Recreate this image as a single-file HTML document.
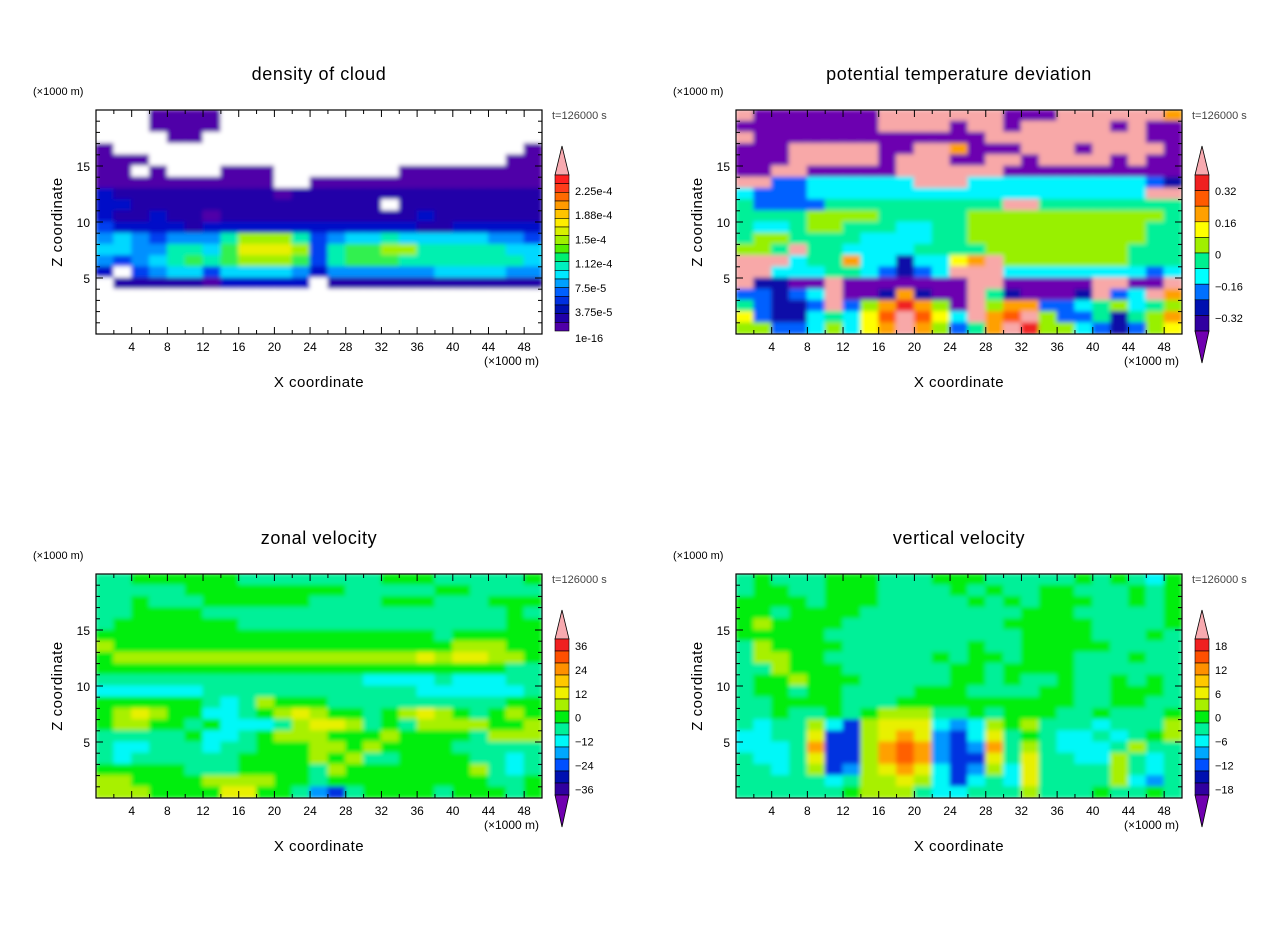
<!DOCTYPE html>
<html><head><meta charset="utf-8"><style>
body{margin:0;background:#fff;}
svg{display:block;font-family:"Liberation Sans",sans-serif;}
</style></head><body>
<svg id="root" width="1280" height="926" viewBox="0 0 1280 926"></svg>
<script>
const xTicks=[4,8,12,16,20,24,28,32,36,40,44,48];
const zTicks=[5,10,15];
const titles=["density of cloud","potential temperature deviation","zonal velocity","vertical velocity"];
const cb1Labels=["2.25e-4","1.88e-4","1.5e-4","1.12e-4","7.5e-5","3.75e-5","1e-16"];
const cb2Labels=["0.32","0.16","0","\u22120.16","\u22120.32"];
const cb3Labels=["36","24","12","0","\u221212","\u221224","\u221236"];
const cb4Labels=["18","12","6","0","\u22126","\u221212","\u221218"];
const field1=[
"...0000..................",
"...0000..................",
"....00...................",
"0.......................0",
"000....................00",
"00.0...000.......00000000",
"0000000000..0000000000000",
"2111111111011111111111111",
"2211111111111111.11111111",
"2112110111111111112111111",
"3222212222222222221122222",
"4543444688863455655555443",
"5544665799983677886666655",
"4345676788873677766666665",
"2.34553555542444444555544",
".11111022222.111111111111",
".........................",
".........................",
".........................",
"........................."];
const field2=[
"kaaaaaaakkkkkkkaaakkkkkkh",
"aaaaaaaakkkkakkakkkkkakaa",
"kaaaaaaaaaaaaakkkkkkkkkaa",
"aaakkkkkaakkhaaakkkakkkka",
"aaakkkkkakkkaakkakkkkakaa",
"aakkaaaaakkkkkkaaaaaaaaaa",
"kkccddddddkkkddddddddddcb",
"dcccdddddddddddddddddddkk",
"ecccceeeeeeeeeekkeeeeeeee",
"eeeeffffeeeeefffffffffffe",
"eddeffeeeddeeffffffffffee",
"effeeeeddddeeffffffffffee",
"ffekeeddddeeeeffffffffeee",
"kkkdeehddbddghkfffffffeee",
"kkdddeedcbcdkkkddddddddcd",
"kbbaakaaaaaaakkaaaaakkaak",
"ccbcdkaabhbaakebaaabkcdkh",
"ecbbckcfhjhfakfhhccdefdef",
"gcbbdedgikigdkhikfccebefh",
"ffccdfdghkhfcehkjffdcbcfg"];
const field3=[
"ttggggggttttttttgggtttttg",
"tttttgggggggggtttttggtttt",
"ttgtttggggggttttgggtttggg",
"ttggggtttttttttttttttttgt",
"tgggggggtttttttttttttttgg",
"gggggggggggggggggggtggggg",
"lggggggggggggggggggglllgg",
"glllllllllllllllllylyyllg",
"gggggggggggggggggggggggtt",
"tttttttttttttttcccctccctt",
"ccccccttttttttttttcccccct",
"ggggggtctlgggttttttttttgg",
"glylggcctglylggtglylgtglg",
"gllggtgccctlyyltgtllllggl",
"tttttgcctglllggglggggtlll",
"tcctttcttgggllglggggttttt",
"tcttttttgggglglttggggttct",
"gggggtttggggtlgggggggltct",
"llggggllllggtgggggggggttg",
"lllggggyyggtbBtggggtgggtg"];
const field4=[
"tgtttgggtttgggtttttgtgtcg",
"tggttgggttttgtgttggtttgtg",
"ggggtgggtttttgtgtgggttgtg",
"ggtggggtttttttttgggtttttg",
"glggggtttttttttgggggttttg",
"gggggtttttttttttggggtttgt",
"tlggggtttttttgttgggggtttt",
"tllggttttttgtggtgggtttgtt",
"ttlgggttttttggtggggtttttt",
"tgglgggtttttggtgttgttgtgt",
"tggtggttttgggttttggttgggt",
"ttggggtttggggggggggttggtt",
"ttgttgtglllttgtgggttgtttg",
"tcttlcBlyyycbclgltttctttl",
"ccttyBBlyoybBcytgtcctctgl",
"ccctoBBlorobBbotltccctltt",
"tcctyBBlorobBBytyttccltct",
"ttctlBblyoycBblcyttttltct",
"tttttctllylcBctcyttttlcbt",
"ttttttgllltcctttltttgttgt"];
const pal1={'.':'#ffffff','0':'#5000a8','1':'#2000a8','2':'#0010c8','3':'#0040f0','4':'#0090ff','5':'#00d8ff','6':'#00f0b0','7':'#30f050','8':'#a0f000','9':'#e8f000'};
const pal2={a:'#6c00b0',b:'#1010a8',c:'#0060ff',d:'#00f4ff',e:'#00f098',f:'#98f000',g:'#ffff00',h:'#ffa000',i:'#ff5a00',j:'#f02020',k:'#f8a8a8'};
const pal3={t:'#00f098',g:'#00ee10',l:'#a8f000',y:'#e8f000',o:'#ffa000',r:'#ff6000',c:'#00f8f8',b:'#0098ff',B:'#0030e0'};
const cbc1=['#ff2020','#ff3c1a','#ff6a00','#ff9a00','#ffc400','#ffec00','#d8f000','#a0f000','#50f000','#00f070','#00f0c0','#00e8ff','#00a0ff','#0060ff','#0030e0','#0010b0','#2000a8','#5000a8'];
const cbc2=['#f02020','#ff5a00','#ffa000','#ffff00','#a0f000','#00f090','#00ffff','#0070ff','#0010b0','#3000a0'];
const cbc3=['#f02020','#ff5000','#ff9000','#ffc800','#f0f000','#a8f000','#00ee10','#00f098','#00f8f8','#00a8ff','#0050ff','#0010b0','#3000a0'];

const NS="http://www.w3.org/2000/svg";
const root=document.getElementById('root');
function mk(tag,attrs,parent){const e=document.createElementNS(NS,tag);for(const k in attrs)e.setAttribute(k,attrs[k]);(parent||root).appendChild(e);return e;}
const defs=mk('defs',{});
const flt=mk('filter',{id:'bl',x:'-5%',y:'-5%',width:'110%',height:'110%'},defs);
mk('feGaussianBlur',{stdDeviation:'2.2'},flt);

const panels=[
 {L:96,T:110,field:field1,pal:pal1,cb:cbc1,lab:cb1Labels,bot:false,lab0:191,labStep:24.2,lastY:342},
 {L:736,T:110,field:field2,pal:pal2,cb:cbc2,lab:cb2Labels,bot:true,lab0:191,labStep:31.8},
 {L:96,T:574,field:field3,pal:pal3,cb:cbc3,lab:cb3Labels,bot:true,lab0:646,labStep:23.9},
 {L:736,T:574,field:field4,pal:pal3,cb:cbc3,lab:cb4Labels,bot:true,lab0:646,labStep:23.9}];
const W=446,H=224,XMAX=50,ZMAX=20;

panels.forEach((p,i)=>{
 const g=mk('g',{});
 
 
 const px=x=>p.L+x/XMAX*W, pz=z=>p.T+H-z/ZMAX*H;
 const cx=p.L+W/2;
 const t=mk('text',{x:cx,y:p.T-30,'font-size':18,'text-anchor':'middle',fill:'#000','letter-spacing':'0.6'},g);t.textContent=titles[i];
 
 const u=mk('text',{x:p.L-63,y:p.T-15,'font-size':11,fill:'#000'},g);u.textContent='(\u00d71000 m)';
 
 const tl=mk('text',{x:p.L+W+10,y:p.T+9,'font-size':11,fill:'#444'},g);tl.textContent='t=126000 s';
 
 const cp=mk('clipPath',{id:'cp'+i},defs);mk('rect',{x:p.L,y:p.T,width:W,height:H},cp);
 const fg=mk('g',{'clip-path':'url(#cp'+i+')'},g);
 
 mk('rect',{x:p.L,y:p.T,width:W,height:H,fill:'#fff'},fg);
 const inner=mk('g',{filter:'url(#bl)'},fg);
 const rows=p.field.length;
 p.field.forEach((row,r)=>{
   const ncol=25;
   for(let c=0;c<ncol;c++){
     const ch=row.charAt(Math.min(c,row.length-1));
     const x0=px(c*XMAX/ncol),x1=px((c+1)*XMAX/ncol);
     const z1=ZMAX-r*ZMAX/rows,z0=ZMAX-(r+1)*ZMAX/rows;
     const cell=mk('rect',{x:x0-0.5,y:pz(z1)-0.5,width:x1-x0+1,height:pz(z0)-pz(z1)+1,fill:p.pal[ch]||'#fff'},inner);
     
     
   }
 });
 const fr=mk('rect',{x:p.L,y:p.T,width:W,height:H,fill:'none',stroke:'#000','stroke-width':1.2},g);
 
 for(let x=2;x<XMAX;x+=2){
   const len=(x%4===0)?7:4;
   mk('line',{x1:px(x),x2:px(x),y1:p.T+H,y2:p.T+H-len,stroke:'#000'},g);
   mk('line',{x1:px(x),x2:px(x),y1:p.T,y2:p.T+len,stroke:'#000'},g);
 }
 for(let z=1;z<ZMAX;z++){
   const len=(z%5===0)?7:4;
   mk('line',{x1:p.L,x2:p.L+len,y1:pz(z),y2:pz(z),stroke:'#000'},g);
   mk('line',{x1:p.L+W,x2:p.L+W-len,y1:pz(z),y2:pz(z),stroke:'#000'},g);
 }
 xTicks.forEach(v=>{const e=mk('text',{x:px(v),y:p.T+H+17,'font-size':12,'text-anchor':'middle'},g);e.textContent=v;
   });
 zTicks.forEach(v=>{const e=mk('text',{x:p.L-6,y:pz(v)+5,'font-size':12,'text-anchor':'end'},g);e.textContent=v;
   });
 const xu=mk('text',{x:p.L+W-58,y:p.T+H+31,'font-size':12},g);xu.textContent='(\u00d71000 m)';
 
 const xt=mk('text',{x:cx,y:p.T+H+53,'font-size':15,'text-anchor':'middle','letter-spacing':'0.5'},g);xt.textContent='X coordinate';
 
 const zt=mk('text',{x:0,y:0,'font-size':15,'text-anchor':'middle','letter-spacing':'0.5',transform:'translate('+(p.L-34)+','+(p.T+H/2)+') rotate(-90)'},g);zt.textContent='Z coordinate';
 
 const cg=mk('g',{},g);
 
 const bx=p.L+W+13,bw=14,bt=p.T+65,bb=p.T+221;
 const n=p.cb.length,ch=(bb-bt)/n;
 mk('path',{d:'M'+bx+' '+bt+' L'+(bx+bw/2)+' '+(p.T+36)+' L'+(bx+bw)+' '+bt+' Z',fill:'#f8aab0',stroke:'#000','stroke-width':0.8},cg);
 p.cb.forEach((c,k)=>{mk('rect',{x:bx,y:bt+k*ch,width:bw,height:ch,fill:c,stroke:'#000','stroke-width':0.6},cg);});
 if(p.bot) mk('path',{d:'M'+bx+' '+bb+' L'+(bx+bw/2)+' '+(bb+32)+' L'+(bx+bw)+' '+bb+' Z',fill:'#7000b0',stroke:'#000','stroke-width':0.8},cg);
 p.lab.forEach((s,k)=>{
   let yy=p.lab0+k*p.labStep;
   if(p.lastY && k===p.lab.length-1) yy=p.lastY-4;
   const e=mk('text',{x:bx+bw+6,y:yy+4,'font-size':11},cg);e.textContent=s;
   });
});
</script>
</body></html>
